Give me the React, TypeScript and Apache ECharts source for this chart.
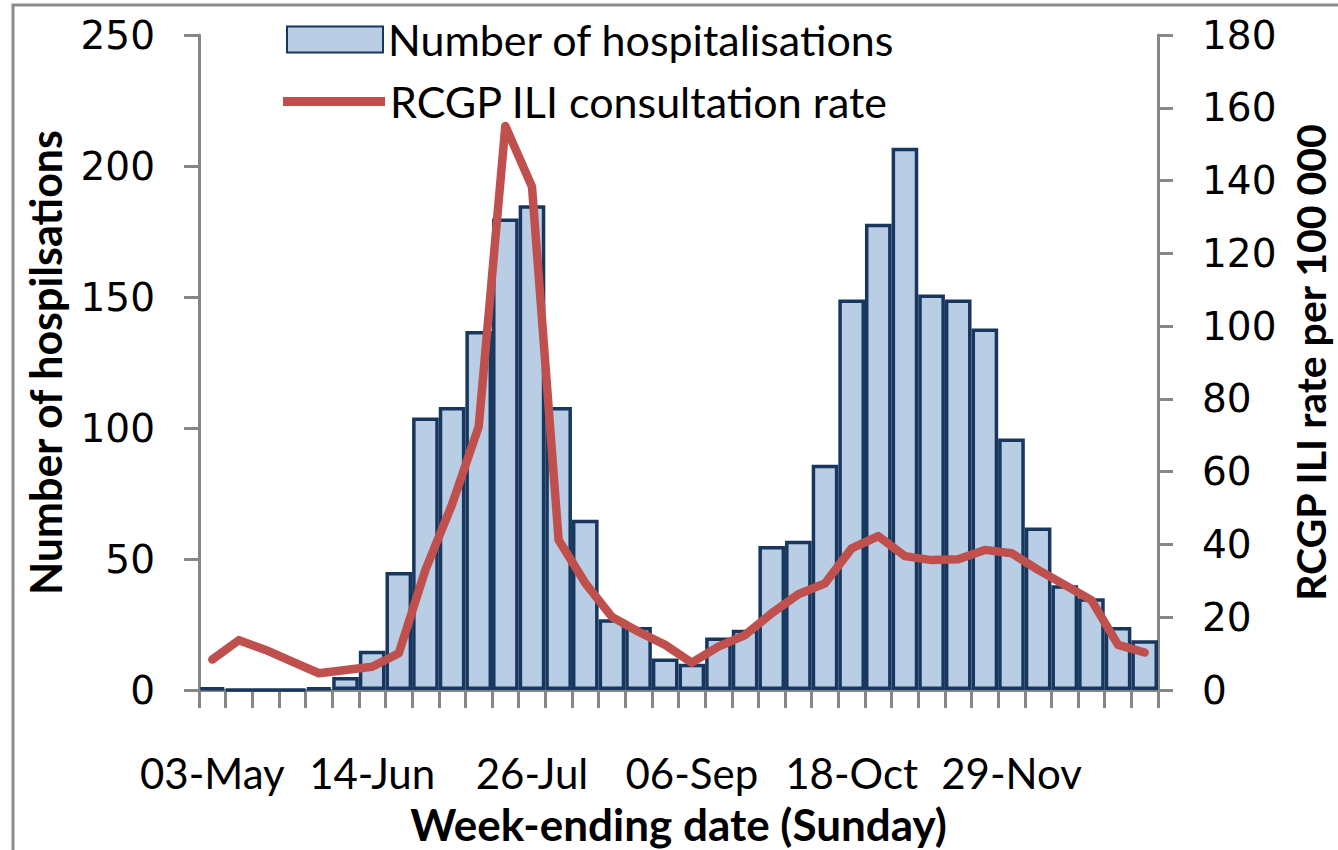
import React, { useEffect, useRef } from "react";
import * as echarts from "echarts";

const categories = [
  "03-May", "10-May", "17-May", "24-May", "31-May", "07-Jun", "14-Jun", "21-Jun", "28-Jun",
  "05-Jul", "12-Jul", "19-Jul", "26-Jul", "02-Aug", "09-Aug", "16-Aug", "23-Aug", "30-Aug",
  "06-Sep", "13-Sep", "20-Sep", "27-Sep", "04-Oct", "11-Oct", "18-Oct", "25-Oct", "01-Nov",
  "08-Nov", "15-Nov", "22-Nov", "29-Nov", "06-Dec", "13-Dec", "20-Dec", "27-Dec", "03-Jan",
];

const hospitalisations = [
  1, 0, 0, 0, 1, 5, 15, 45, 104, 108, 137, 180, 185, 108, 65, 27, 24, 12,
  10, 20, 23, 55, 57, 86, 149, 178, 207, 151, 149, 138, 96, 62, 40, 35, 24, 19,
];

const iliRate = [
  8.4, 13.7, 11, 7.8, 4.6, 5.5, 6.4, 10.1, 33, 51, 72.4, 155, 138.3, 41.2, 29.4, 20.1, 16, 12.4,
  7.5, 11.9, 15.1, 21.1, 26.3, 29.3, 38.9, 42.3, 36.8, 35.7, 35.9, 38.5, 37.6, 33, 28.9, 24.7, 12.4, 10.3,
];

const leftTicks = { min: 0, max: 250, interval: 50 };
const rightTicks = { min: 0, max: 180, interval: 20 };

const BAR_NAME = "Number of hospitalisations";
const LINE_NAME = "RCGP ILI consultation rate";
const LEFT_TITLE = "Number of hospilsations";
const RIGHT_TITLE = "RCGP ILI rate per 100 000";
const X_TITLE = "Week-ending date (Sunday)";

export default function App() {
  const ref = useRef<HTMLDivElement>(null);

  useEffect(() => {
    if (!ref.current) return;
    const chart = echarts.init(ref.current, undefined, { renderer: "svg" });
    const axisGray = "#868686";
    const calibri = "Lato, 'Open Sans', sans-serif";
    const tickFont = "'DejaVu Sans', Verdana, sans-serif";

    chart.setOption({
      animation: false,
      backgroundColor: "#ffffff",
      graphic: [
        {
          type: "rect",
          z: -10,
          shape: { x: 13, y: 5, width: 1400, height: 900 },
          style: { fill: "none", stroke: "#8c8c8c", lineWidth: 3 },
        },
      ],
      grid: {
        left: 199,
        right: 180,
        top: 35,
        bottom: 160,
        containLabel: false,
        outerBoundsMode: "none",
      },
      legend: [
        {
          data: [{ name: BAR_NAME, icon: "rect" }],
          left: 286,
          top: 18,
          padding: 0,
          itemWidth: 96,
          itemHeight: 26,
          itemGap: 10,
          selectedMode: false,
          textStyle: { fontSize: 43, fontFamily: calibri, color: "#000" },
        },
        {
          data: [{ name: LINE_NAME, icon: "rect" }],
          left: 283,
          top: 80,
          padding: 0,
          itemWidth: 102,
          itemHeight: 9,
          selectedMode: false,
          itemStyle: { color: "#C0504D" },
          textStyle: { fontSize: 43, fontFamily: calibri, color: "#000" },
        },
      ],
      xAxis: {
        type: "category",
        data: categories,
        boundaryGap: true,
        name: X_TITLE,
        nameLocation: "middle",
        nameGap: 112,
        nameTextStyle: { fontSize: 44, fontWeight: "bold", fontFamily: calibri, color: "#000" },
        axisLine: { lineStyle: { color: axisGray, width: 3 } },
        axisTick: { show: true, interval: 0, length: 18, lineStyle: { color: axisGray, width: 3 } },
        axisLabel: { interval: 5, margin: 62, fontSize: 42, fontFamily: calibri, color: "#000" },
        splitLine: { show: false },
      },
      yAxis: [
        {
          type: "value",
          ...leftTicks,
          name: LEFT_TITLE,
          nameLocation: "middle",
          nameGap: 132,
          nameTextStyle: { fontSize: 43, fontWeight: "bold", fontFamily: calibri, color: "#000" },
          axisLine: { show: true, lineStyle: { color: axisGray, width: 3 } },
          axisTick: { show: true, length: 15, lineStyle: { color: axisGray, width: 3 } },
          axisLabel: { margin: 44, fontSize: 39, fontFamily: tickFont, color: "#000" },
          splitLine: { show: false },
        },
        {
          type: "value",
          position: "right",
          ...rightTicks,
          name: RIGHT_TITLE,
          nameLocation: "middle",
          nameGap: 136,
          nameTextStyle: {
            fontSize: 41,
            lineHeight: 32,
            fontWeight: "bold",
            fontFamily: calibri,
            color: "#000",
          },
          axisLine: { show: true, lineStyle: { color: axisGray, width: 3 } },
          axisTick: { show: true, length: 15, lineStyle: { color: axisGray, width: 3 } },
          axisLabel: { margin: 44, fontSize: 39, fontFamily: tickFont, color: "#000" },
          splitLine: { show: false },
        },
      ],
      series: [
        {
          name: BAR_NAME,
          type: "bar",
          data: hospitalisations,
          barCategoryGap: "0%",
          itemStyle: { color: "#B9CDE5", borderColor: "#17375E", borderWidth: 3.5 },
        },
        {
          name: LINE_NAME,
          type: "line",
          yAxisIndex: 1,
          data: iliRate,
          symbol: "none",
          smooth: false,
          itemStyle: { color: "#C0504D" },
          lineStyle: { color: "#C0504D", width: 8.5, join: "round", cap: "round" },
        },
      ],
    });
    return () => chart.dispose();
  }, []);

  return (
    <div
      ref={ref}
      style={{ position: "absolute", left: 0, top: 0, width: 1338, height: 850, overflow: "hidden" }}
    />
  );
}
